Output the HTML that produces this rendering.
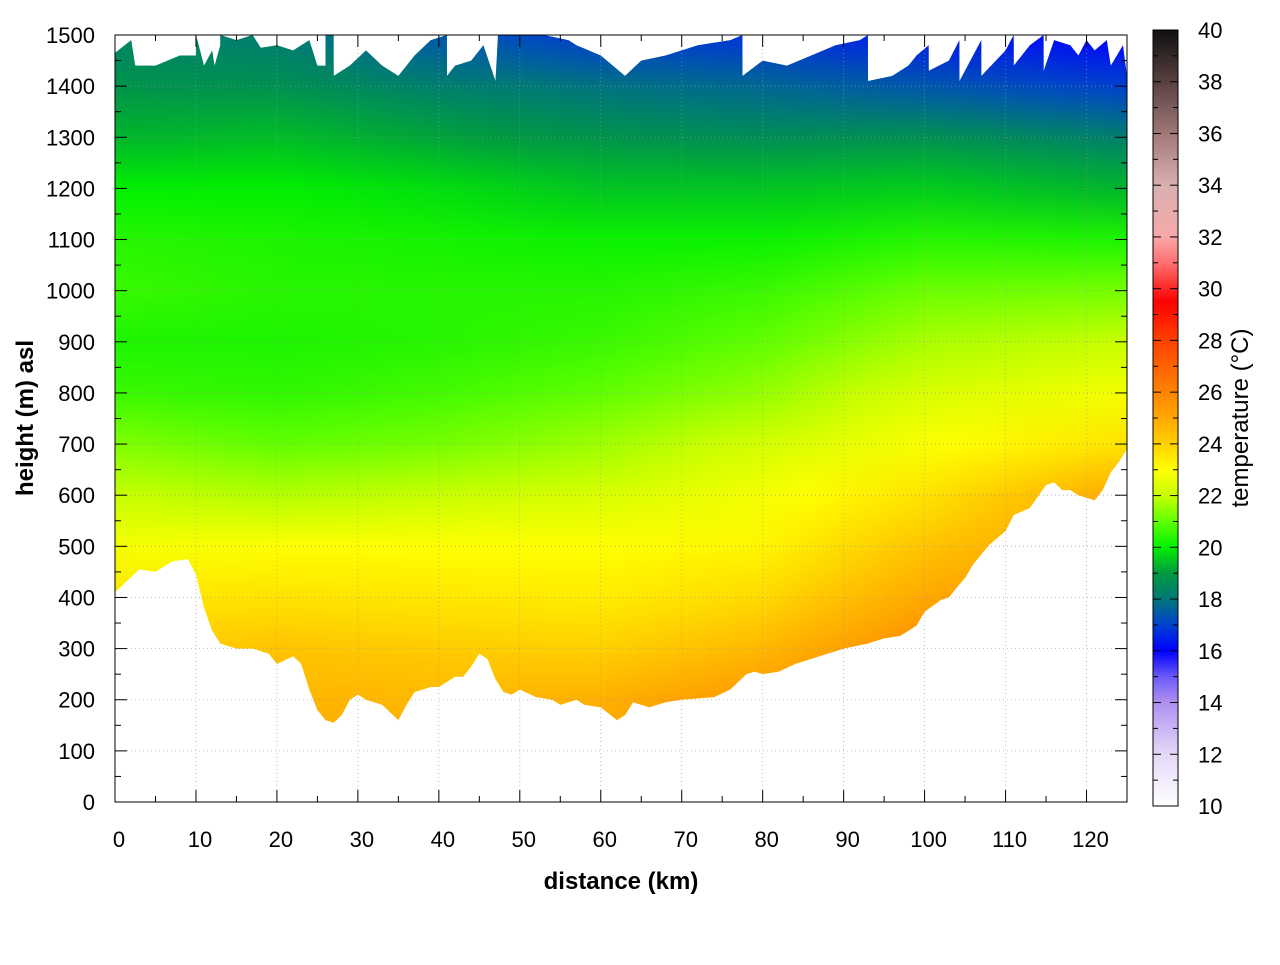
<!DOCTYPE html>
<html><head><meta charset="utf-8"><style>
body{margin:0;background:#fff;}
svg text{font-family:"Liberation Sans",sans-serif;}
</style></head><body>
<svg id="chart" width="1280" height="960" xmlns="http://www.w3.org/2000/svg">
<defs id="defs"></defs>
<g id="field"></g>
<g id="grid"></g>
<g id="axes"></g>
<g id="cbar"></g>
<text x="621" y="889" text-anchor="middle" font-size="24" font-weight="bold">distance (km)</text>
<text transform="translate(33,418) rotate(-90)" text-anchor="middle" font-size="24" font-weight="bold">height (m) asl</text>
<text transform="translate(1248,418) rotate(-90)" text-anchor="middle" font-size="24">temperature (°C)</text>
</svg>
<script>
// ---- data ----
const groundKm = [0,3,5,7,9,10,11,12,13,15,17,19,20,22,23,24,25,26,27,28,29,30,31,33,35,36,37,39,40,41,42,43,44,45,46,47,48,49,50,52,54,55,57,58,60,62,63,64,66,68,70,74,76,78,79,80,82,84,86,88,90,93,95,97,99,100,102,103,104,105,106,108,110,111,113,115,116,117,118,119,120,121,122,123,124,125];
const groundM  = [410,455,450,470,475,445,380,335,310,300,300,290,270,285,270,220,180,160,155,170,200,210,200,190,160,190,215,225,225,235,245,245,265,290,280,240,215,210,220,205,200,190,200,190,185,160,170,195,185,195,200,205,220,250,255,250,255,270,280,290,300,310,320,325,345,372,395,400,420,438,465,503,530,561,575,620,625,610,610,600,595,590,610,645,665,690];
const topKm = [0,2,2.5,5,8,10,10.01,11,12,12.3,13,13.01,15,17,18,20,22,24,25,26,26.01,27,27.01,29,31,33,35,37,39,41,41.01,42,44,45.5,47,47.3,50,53,56,57,60,63,65,68,70,72,76,77.5,77.51,80,83,86,89,92,93,93.01,96,98,99,100.5,100.51,103,104.3,104.31,107,107.01,110,111,111.01,113,114.7,114.71,116,118,119,120,121,122.5,123,124.5,125];
const topM  = [1465,1490,1440,1440,1460,1460,1500,1440,1470,1440,1480,1500,1490,1500,1475,1480,1470,1490,1440,1440,1500,1500,1420,1440,1470,1440,1420,1460,1490,1500,1420,1440,1450,1480,1410,1500,1500,1500,1490,1480,1460,1420,1450,1460,1470,1480,1490,1500,1420,1450,1440,1460,1480,1490,1500,1410,1420,1440,1460,1480,1430,1450,1490,1410,1490,1420,1470,1500,1440,1480,1500,1430,1490,1480,1460,1490,1470,1490,1440,1480,1420];
const tNodesKm = [0,20,40,60,80,100,125];
const tHeights = [0,100,200,300,400,500,600,700,800,900,1000,1100,1200,1300,1400,1500];
const tKm0   = [24.5,24.4,24.2,24,23.5,22.8,22,21.3,20.6,20.3,20.6,20.4,20,19.3,18.8,18.3];
const tKm20  = [25,24.9,24.7,24.3,23.6,23,21.8,21,20.5,20.3,20.4,20.3,20,19.4,18.7,18.1];
const tKm40  = [25.2,25,24.6,24.1,23.5,23,22,21.2,20.7,20.4,20.4,20.2,19.8,19.1,18.2,17.4];
const tKm60  = [25.4,25,24.8,24,23.4,23,22.3,21.6,21,20.6,20.4,20.1,19.5,18.8,17.9,16.9];
const tKm80  = [26,25.8,25.5,24.6,23.8,23.2,22.8,22.2,21.5,21,20.6,20.1,19.5,18.6,17.7,16.8];
const tKm100 = [26.5,26.3,26.1,25.8,25,24.3,23.6,22.9,22.3,21.7,21.1,20.4,19.6,18.7,17.4,16.4];
const tKm125 = [27,26.8,26.5,26.2,25.8,25.4,25,23.6,22.8,22,21.2,20.3,19.3,18.2,17,16];
const cbTicks = [10,12,14,16,18,20,22,24,26,28,30,32,34,36,38,40];
const xTicks = [0,10,20,30,40,50,60,70,80,90,100,110,120];
const yTicks = [0,100,200,300,400,500,600,700,800,900,1000,1100,1200,1300,1400,1500];

// ---- scales ----
const X0=115,X1=1127,Y0=802,Y1=35,KMAX=125,HMAX=1500;
const sx=k=>X0+k/KMAX*(X1-X0);
const sy=h=>Y0-h/HMAX*(Y0-Y1);
const CB_TOP=30,CB_BOT=806,CBX=1153,CBW=25;
const sc=t=>CB_BOT-(t-10)/30*(CB_BOT-CB_TOP);
const cmap=[[10,'#ffffff'],[12,'#e4d8f8'],[14,'#b090f0'],[15,'#6a5af8'],[16,'#0000ff'],[17,'#0040d0'],[18,'#007878'],[19,'#009a40'],[20,'#00f000'],[21,'#60ff00'],[22,'#c8ff00'],[23,'#ffff00'],[24,'#ffd000'],[25,'#ffa800'],[26,'#ff8400'],[28,'#ff4000'],[29.5,'#ff0000'],[31,'#ff7070'],[32,'#f8a8a8'],[34,'#d8b0b0'],[36,'#a07878'],[38,'#584040'],[40,'#101010']];
function hex(c){return [1,3,5].map(i=>parseInt(c.substr(i,2),16));}
function col(t){
  t=Math.max(10,Math.min(40,t));
  for(let i=0;i<cmap.length-1;i++){const a=cmap[i],b=cmap[i+1];
    if(t<=b[0]){const f=(t-a[0])/(b[0]-a[0]);const ca=hex(a[1]),cb=hex(b[1]);
      return 'rgb('+ca.map((v,j)=>Math.round(v+(cb[j]-v)*f)).join(',')+')';}}
  return cmap[cmap.length-1][1];
}
const NS='http://www.w3.org/2000/svg';
function mk(tag,attrs,parent){const e=document.createElementNS(NS,tag);for(const k in attrs)e.setAttribute(k,attrs[k]);parent.appendChild(e);return e;}
const defs=document.getElementById('defs');
const field=document.getElementById('field');
const cols=[tKm0,tKm20,tKm40,tKm60,tKm80,tKm100,tKm125];

let pts=[];
groundKm.forEach((k,i)=>pts.push(sx(k)+','+sy(groundM[i])));
for(let i=topKm.length-1;i>=0;i--)pts.push(sx(topKm[i])+','+sy(topM[i]));
const cp=mk('clipPath',{id:'fclip'},defs);
mk('polygon',{points:pts.join(' ')},cp);
const fg=mk('g',{'clip-path':'url(#fclip)'},field);

const STEP=0.5;
for(let k=0;k<KMAX;k+=STEP){
  const kc=k+STEP/2;let j=0;while(j<tNodesKm.length-2&&kc>tNodesKm[j+1])j++;
  const f=(kc-tNodesKm[j])/(tNodesKm[j+1]-tNodesKm[j]);
  const g=mk('linearGradient',{id:'g'+(k*2),gradientUnits:'userSpaceOnUse',x1:0,y1:sy(0),x2:0,y2:sy(HMAX)},defs);
  tHeights.forEach((h,i)=>{const t=cols[j][i]+(cols[j+1][i]-cols[j][i])*f;
    mk('stop',{offset:h/HMAX,'stop-color':col(t)},g);});
  const r=mk('rect',{x:sx(k),y:Y1,width:(X1-X0)*STEP/KMAX+0.6,height:Y0-Y1,fill:'url(#g'+(k*2)+')'},fg);
  
  
}

const grid=document.getElementById('grid');
xTicks.forEach(k=>{if(k>0){const l=mk('line',{x1:sx(k),x2:sx(k),y1:Y0,y2:Y1,stroke:'#999','stroke-width':0.8,'stroke-dasharray':'1,3',opacity:0.8},grid);
  }});
yTicks.forEach(h=>{if(h>0&&h<HMAX){const l=mk('line',{x1:X0,x2:X1,y1:sy(h),y2:sy(h),stroke:'#999','stroke-width':0.8,'stroke-dasharray':'1,3',opacity:0.8},grid);
  }});

const ax=document.getElementById('axes');
const fr=mk('rect',{x:X0,y:Y1,width:X1-X0,height:Y0-Y1,fill:'none',stroke:'#000','stroke-width':1},ax);

for(let k=0;k<=KMAX;k+=5){const L=(k%10===0)?12:6;
  mk('line',{x1:sx(k),x2:sx(k),y1:Y0,y2:Y0-L,stroke:'#000'},ax);
  mk('line',{x1:sx(k),x2:sx(k),y1:Y1,y2:Y1+L,stroke:'#000'},ax);}
for(let h=0;h<=HMAX;h+=50){const L=(h%100===0)?12:6;
  mk('line',{x1:X0,x2:X0+L,y1:sy(h),y2:sy(h),stroke:'#000'},ax);
  mk('line',{x1:X1,x2:X1-L,y1:sy(h),y2:sy(h),stroke:'#000'},ax);}
xTicks.forEach(k=>{const t=mk('text',{x:sx(k)+4,y:847,'text-anchor':'middle','font-size':22},ax);t.textContent=k;
  });
yTicks.forEach(h=>{const t=mk('text',{x:95,y:sy(h)+8,'text-anchor':'end','font-size':22},ax);t.textContent=h;
  });

const cb=document.getElementById('cbar');
const cg=mk('linearGradient',{id:'cbg',gradientUnits:'userSpaceOnUse',x1:0,y1:CB_BOT,x2:0,y2:CB_TOP},defs);
for(let t=10;t<=40;t+=0.5)mk('stop',{offset:(t-10)/30,'stop-color':col(t)},cg);
const cr=mk('rect',{x:CBX,y:CB_TOP,width:CBW,height:CB_BOT-CB_TOP,fill:'url(#cbg)',stroke:'#000','stroke-width':1},cb);

for(let t=10;t<=40;t+=1){const L=(t%2===0)?8:5;
  mk('line',{x1:CBX,x2:CBX+L,y1:sc(t),y2:sc(t),stroke:'#000'},cb);
  mk('line',{x1:CBX+CBW,x2:CBX+CBW-L,y1:sc(t),y2:sc(t),stroke:'#000'},cb);}
cbTicks.forEach(t=>{const e=mk('text',{x:1198,y:sc(t)+8,'font-size':22},cb);e.textContent=t;
  });
</script>
</body></html>
